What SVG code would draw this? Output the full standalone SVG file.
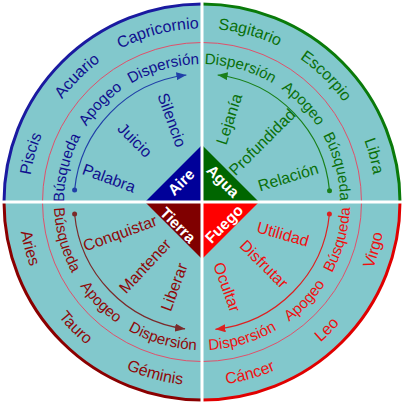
<svg xmlns="http://www.w3.org/2000/svg" width="404" height="404" viewBox="0 0 404 404">
<style>
text{font-family:"Liberation Sans",Arial,sans-serif;font-size:16px}
.mid{font-size:15.2px}
.b{fill:#10108f}.g{fill:#0a700a}.m{fill:#8e0a0a}.r{fill:#ee1010}
.c{font-weight:bold;fill:#fff;font-size:15.5px}
.arc{fill:none;stroke-width:1.2}
</style>
<defs>
<path id="to" d="M28.5,202 A173.5,173.5 0 0 1 375.5,202"/>
<path id="bo" d="M18.5,202 A183.5,183.5 0 0 0 385.5,202"/>
<path id="tm" d="M64,202 A138,138 0 0 1 340,202"/>
<path id="bm" d="M54,202 A148,148 0 0 0 350,202"/>
<marker id="ab" markerUnits="userSpaceOnUse" markerWidth="10" markerHeight="8" refX="10" refY="4" orient="auto"><path d="M0,0 L10,4 L0,8 z" fill="#2040a8"/></marker>
<marker id="ag" markerUnits="userSpaceOnUse" markerWidth="10" markerHeight="8" refX="10" refY="4" orient="auto"><path d="M0,0 L10,4 L0,8 z" fill="#1a801a"/></marker>
<marker id="am" markerUnits="userSpaceOnUse" markerWidth="10" markerHeight="8" refX="10" refY="4" orient="auto"><path d="M0,0 L10,4 L0,8 z" fill="#7a2a2a"/></marker>
<marker id="ar" markerUnits="userSpaceOnUse" markerWidth="10" markerHeight="8" refX="10" refY="4" orient="auto"><path d="M0,0 L10,4 L0,8 z" fill="#dd2020"/></marker>
</defs>
<circle cx="202" cy="202" r="198" fill="#82c8cc"/>
<circle cx="202" cy="202" r="159.5" fill="none" stroke="#e0506a" stroke-width="1"/>
<g id="borders" fill="none" stroke-width="3">
<path d="M4,202 A198,198 0 0 1 202,4" stroke="#1a1aa0"/>
<path d="M202,4 A198,198 0 0 1 400,202" stroke="#0a7a0a"/>
<path d="M4,202 A198,198 0 0 0 202,400" stroke="#8a0000"/>
<path d="M202,400 A198,198 0 0 0 400,202" stroke="#e00000"/>
</g>
<g id="connectors">
<path class="arc" d="M74.6,190 A128,128 0 0 1 186.4,75" stroke="#2040a8" marker-end="url(#ab)"/>
<circle cx="74.6" cy="190" r="2.5" fill="#2040a8"/>
<path class="arc" d="M329.5,190.8 A128,128 0 0 0 217.6,75" stroke="#1a801a" marker-end="url(#ag)"/>
<circle cx="329.5" cy="190.8" r="2.5" fill="#1a801a"/>
<path class="arc" d="M74.6,214 A128,128 0 0 0 185.1,328.9" stroke="#7a2a2a" marker-end="url(#am)"/>
<circle cx="74.6" cy="214" r="2.5" fill="#7a2a2a"/>
<path class="arc" d="M329.4,214 A128,128 0 0 1 215.4,329.3" stroke="#dd2020" marker-end="url(#ar)"/>
<circle cx="329.4" cy="214" r="2.5" fill="#dd2020"/>
</g>
<g id="aire">
<path d="M145,202 L202,145 L202,202 z" fill="#000099"/>
<text class="c" transform="translate(181,182) rotate(-45)" text-anchor="middle" dy=".35em">Aire</text>
<text class="b" text-anchor="middle"><textPath href="#to" startOffset="47.8">Piscis</textPath></text>
<text class="b" text-anchor="middle"><textPath href="#to" startOffset="136.9">Acuario</textPath></text>
<text class="b" text-anchor="middle"><textPath href="#to" startOffset="228.3">Capricornio</textPath></text>
<text class="b mid" text-anchor="middle"><textPath href="#tm" startOffset="34">Búsqueda</textPath></text>
<text class="b mid" text-anchor="middle"><textPath href="#tm" startOffset="106">Apogeo</textPath></text>
<text class="b mid" text-anchor="middle"><textPath href="#tm" startOffset="178">Dispersión</textPath></text>
<text class="b" transform="translate(109,178) rotate(20)" text-anchor="middle" dy=".35em">Palabra</text>
<text class="b" transform="translate(135,140) rotate(45)" text-anchor="middle" dy=".35em">Juicio</text>
<text class="b" transform="translate(172,120) rotate(70)" text-anchor="middle" dy=".35em">Silencio</text>
</g>
<g id="agua">
<path d="M202,145 L259,202 L202,202 z" fill="#006600"/>
<text class="c" transform="translate(223,181) rotate(45)" text-anchor="middle" dy=".35em">Agua</text>
<text class="g" text-anchor="middle"><textPath href="#to" startOffset="320.1">Sagitario</textPath></text>
<text class="g" text-anchor="middle"><textPath href="#to" startOffset="407.3">Escorpio</textPath></text>
<text class="g" text-anchor="middle"><textPath href="#to" startOffset="499.6">Libra</textPath></text>
<text class="g mid" text-anchor="middle"><textPath href="#tm" startOffset="255">Dispersión</textPath></text>
<text class="g mid" text-anchor="middle"><textPath href="#tm" startOffset="327.1">Apogeo</textPath></text>
<text class="g mid" text-anchor="middle"><textPath href="#tm" startOffset="398">Búsqueda</textPath></text>
<text class="g" transform="translate(229,119) rotate(-72)" text-anchor="middle" dy=".35em">Lejanía</text>
<text class="g" transform="translate(262,142) rotate(-45)" text-anchor="middle" dy=".35em">Profundidad</text>
<text class="g" transform="translate(288,177) rotate(-17)" text-anchor="middle" dy=".35em">Relación</text>
</g>
<g id="tierra">
<path d="M145,202 L202,259 L202,202 z" fill="#800000"/>
<text class="c" transform="translate(178,225) rotate(45)" text-anchor="middle" dy=".35em">Tierra</text>
<text class="m" text-anchor="middle"><textPath href="#bo" startOffset="48">Aries</textPath></text>
<text class="m" text-anchor="middle"><textPath href="#bo" startOffset="143.5">Tauro</textPath></text>
<text class="m" text-anchor="middle"><textPath href="#bo" startOffset="239.2">Géminis</textPath></text>
<text class="m mid" text-anchor="middle"><textPath href="#bm" startOffset="40">Búsqueda</textPath></text>
<text class="m mid" text-anchor="middle"><textPath href="#bm" startOffset="115.5">Apogeo</textPath></text>
<text class="m mid" text-anchor="middle"><textPath href="#bm" startOffset="191">Dispersión</textPath></text>
<text class="m" transform="translate(120,233) rotate(-20)" text-anchor="middle" dy=".35em">Conquistar</text>
<text class="m" transform="translate(145,266) rotate(-47)" text-anchor="middle" dy=".35em">Mantener</text>
<text class="m" transform="translate(174,287) rotate(-70)" text-anchor="middle" dy=".35em">Liberar</text>
</g>
<g id="fuego">
<path d="M259,202 L202,259 L202,202 z" fill="#ff0000"/>
<text class="c" transform="translate(224,224) rotate(-45)" text-anchor="middle" dy=".35em">Fuego</text>
<text class="r" text-anchor="middle"><textPath href="#bo" startOffset="338.2">Cáncer</textPath></text>
<text class="r" text-anchor="middle"><textPath href="#bo" startOffset="430.1">Leo</textPath></text>
<text class="r" text-anchor="middle"><textPath href="#bo" startOffset="526.2">Virgo</textPath></text>
<text class="r mid" text-anchor="middle"><textPath href="#bm" startOffset="275">Dispersión</textPath></text>
<text class="r mid" text-anchor="middle"><textPath href="#bm" startOffset="351.6">Apogeo</textPath></text>
<text class="r mid" text-anchor="middle"><textPath href="#bm" startOffset="425">Búsqueda</textPath></text>
<text class="r" transform="translate(283,234) rotate(16)" text-anchor="middle" dy=".35em">Utilidad</text>
<text class="r" transform="translate(264,264) rotate(45)" text-anchor="middle" dy=".35em">Disfrutar</text>
<text class="r" transform="translate(227,287) rotate(70)" text-anchor="middle" dy=".35em">Ocultar</text>
</g>
<g id="dividers" stroke="#fff" stroke-width="3">
<line x1="202" y1="0" x2="202" y2="404"/>
<line x1="0" y1="202" x2="404" y2="202"/>
</g>
</svg>
